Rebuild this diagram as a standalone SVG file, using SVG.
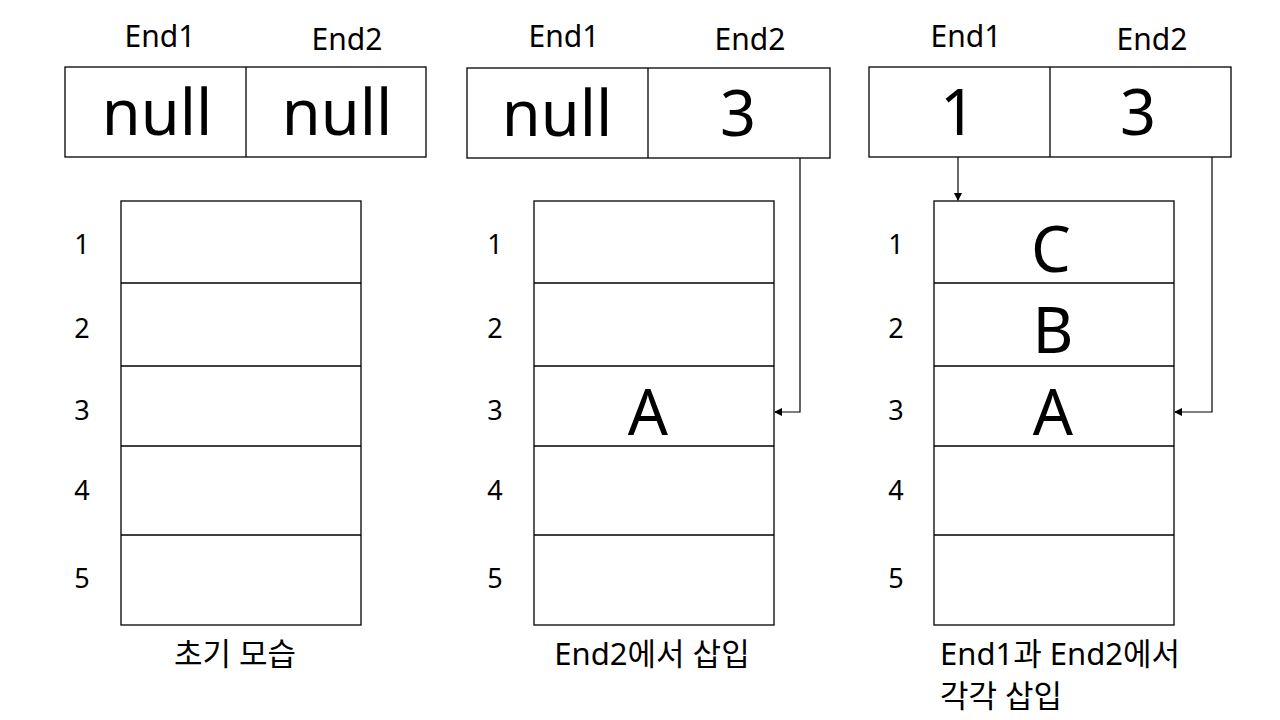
<svg xmlns="http://www.w3.org/2000/svg" width="1280" height="720" viewBox="0 0 1280 720">
<defs>
<style>
text{font-family:"Noto Sans","Noto Sans CJK KR",sans-serif;fill:#000}
.lbl{font-size:30px;text-anchor:middle}
.big{font-size:63px;text-anchor:middle}
.num{font-size:27px;text-anchor:middle}
.cap{font-size:31px}
.box{fill:#fff;stroke:#000;stroke-width:1.3}
.ln{stroke:#000;stroke-width:1.3}
.conn{fill:none;stroke:#000;stroke-width:1.2}
</style>
<marker id="ah" markerWidth="8" markerHeight="8" refX="7" refY="4" orient="auto" markerUnits="userSpaceOnUse">
<path d="M0,0 L8,4 L0,8 z" fill="#000"/>
</marker>
</defs>
<rect width="1280" height="720" fill="#fff"/>

<g id="panel1">
<text class="lbl" x="160" y="47">End1</text>
<text class="lbl" x="347" y="50">End2</text>
<rect class="box" x="65" y="67" width="361" height="90"/>
<line class="ln" x1="246" y1="67" x2="246" y2="157"/>
<text class="big" x="157" y="135">null</text>
<text class="big" x="337" y="135">null</text>
<rect class="box" x="121" y="201" width="240" height="424"/>
<line class="ln" x1="121" y1="283" x2="361" y2="283"/>
<line class="ln" x1="121" y1="366" x2="361" y2="366"/>
<line class="ln" x1="121" y1="446" x2="361" y2="446"/>
<line class="ln" x1="121" y1="535" x2="361" y2="535"/>
<text class="num" x="82" y="254">1</text>
<text class="num" x="82" y="338">2</text>
<text class="num" x="82" y="420">3</text>
<text class="num" x="82" y="500">4</text>
<text class="num" x="82" y="588">5</text>
<text class="cap" x="235" y="665" text-anchor="middle">초기 모습</text>
</g>

<g id="panel2">
<text class="lbl" x="564" y="47">End1</text>
<text class="lbl" x="750" y="50">End2</text>
<rect class="box" x="467" y="68" width="363" height="90"/>
<line class="ln" x1="648" y1="68" x2="648" y2="158"/>
<text class="big" x="557" y="136">null</text>
<text class="big" x="738" y="136">3</text>
<rect class="box" x="534" y="201" width="240" height="424"/>
<line class="ln" x1="534" y1="283" x2="774" y2="283"/>
<line class="ln" x1="534" y1="366" x2="774" y2="366"/>
<line class="ln" x1="534" y1="446" x2="774" y2="446"/>
<line class="ln" x1="534" y1="535" x2="774" y2="535"/>
<text class="big" x="648" y="435">A</text>
<text class="num" x="495" y="254">1</text>
<text class="num" x="495" y="338">2</text>
<text class="num" x="495" y="420">3</text>
<text class="num" x="495" y="500">4</text>
<text class="num" x="495" y="588">5</text>
<text class="cap" x="652" y="665" text-anchor="middle">End2에서 삽입</text>
</g>

<g id="panel3">
<text class="lbl" x="966" y="47">End1</text>
<text class="lbl" x="1152" y="50">End2</text>
<rect class="box" x="869" y="67" width="362" height="90"/>
<line class="ln" x1="1050" y1="67" x2="1050" y2="157"/>
<text class="big" x="958" y="135">1</text>
<text class="big" x="1138" y="135">3</text>
<rect class="box" x="934" y="201" width="240" height="424"/>
<line class="ln" x1="934" y1="283" x2="1174" y2="283"/>
<line class="ln" x1="934" y1="366" x2="1174" y2="366"/>
<line class="ln" x1="934" y1="446" x2="1174" y2="446"/>
<line class="ln" x1="934" y1="535" x2="1174" y2="535"/>
<text class="big" x="1051" y="272">C</text>
<text class="big" x="1053" y="353">B</text>
<text class="big" x="1053" y="435">A</text>
<text class="num" x="896" y="254">1</text>
<text class="num" x="896" y="338">2</text>
<text class="num" x="896" y="420">3</text>
<text class="num" x="896" y="500">4</text>
<text class="num" x="896" y="588">5</text>
<text class="cap" x="940" y="665">End1과 End2에서</text>
<text class="cap" x="940" y="707">각각 삽입</text>
</g>

<g id="connectors">
<path class="conn" d="M800,158 V412 H775" marker-end="url(#ah)"/>
<path class="conn" d="M958,157 V200" marker-end="url(#ah)"/>
<path class="conn" d="M1212,157 V412 H1175" marker-end="url(#ah)"/>
</g>
</svg>
